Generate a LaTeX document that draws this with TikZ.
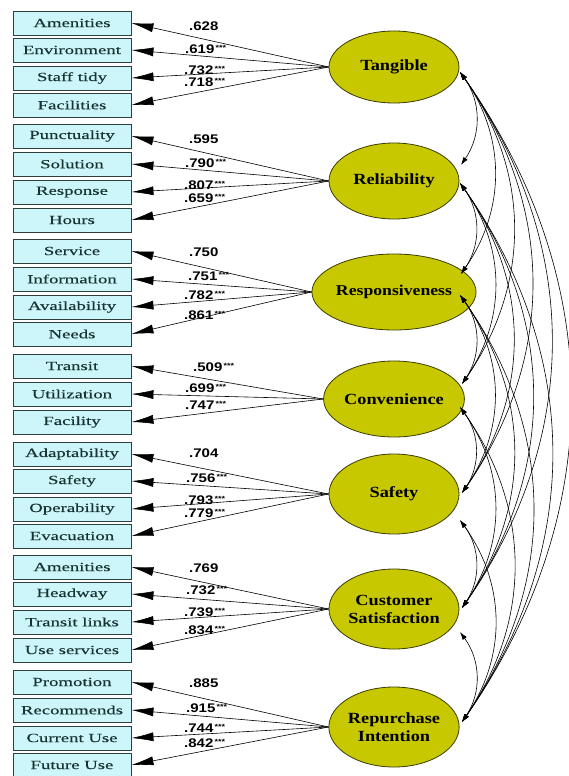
\documentclass[tikz,border=0pt]{standalone}
\usepackage{fontspec}
\setmainfont{Liberation Serif}
\newfontfamily\boxfont[FakeStretch=1.5,FakeBold=0.2]{Liberation Serif}
\newfontfamily\ellfont[FakeStretch=1.18]{Liberation Serif}
\newfontfamily\numfont[FakeStretch=1.2]{Liberation Sans}
\usetikzlibrary{arrows.meta,shapes.geometric}
\definecolor{boxfill}{RGB}{204,246,250}
\definecolor{boxdraw}{RGB}{50,62,62}
\definecolor{boxtext}{RGB}{24,50,50}
\definecolor{ellfill}{RGB}{200,200,0}
\definecolor{elldraw}{RGB}{60,60,0}
\newcommand{\stt}{\raisebox{3pt}{\fontsize{7.5}{7.5}\selectfont\,***}}
\begin{document}
\begin{tikzpicture}[x=1pt,y=-1pt,
 obs/.style={draw=boxdraw, fill=boxfill, line width=0.9pt, minimum width=118pt, minimum height=24pt, inner sep=0pt, font=\boxfont\fontsize{12.5}{13}\selectfont, text=boxtext},
 lat/.style={ellipse, draw=elldraw, fill=ellfill, line width=0.8pt, minimum width=130pt, minimum height=76pt, inner sep=0pt, font=\ellfont\bfseries\fontsize{15.5}{18}\selectfont, align=center, text=black},
 load/.style={-{Latex[length=22pt,width=9pt]}, line width=0.6pt},
 cov/.style={{Latex[length=8pt,width=5pt]}-{Latex[length=8pt,width=5pt]}, line width=0.6pt, bend left=35},
 coef/.style={anchor=west, inner sep=0pt, font=\numfont\bfseries\fontsize{12.5}{13}\selectfont}]
\useasboundingbox (0,0) rectangle (568,776);
% latent variables
\node[lat, minimum height=72pt] (t) at (394,67) {Tangible};
\node[lat] (r) at (394,181) {Reliability};
\node[lat, font=\ellfont\bfseries\fontsize{15}{18}\selectfont] (p) at (394,292) {Responsiveness};
\node[lat] (c) at (394,399) {Convenience};
\node[lat, minimum height=80pt] (s) at (394,494) {Safety};
\node[lat, minimum height=80pt] (cs) at (394,609) {Customer\\Satisfaction};
\node[lat, minimum height=80pt] (ri) at (394,727) {Repurchase\\Intention};
% observed
\node[obs] (a1) at (72,23) {Amenities};
\node[obs] (a2) at (72,50) {Environment};
\node[obs] (a3) at (72,78) {Staff tidy};
\node[obs] (a4) at (72,105) {Facilities};
\node[obs] (b1) at (72,136) {Punctuality};
\node[obs] (b2) at (72,164) {Solution};
\node[obs] (b3) at (72,192) {Response};
\node[obs] (b4) at (72,220) {Hours};
\node[obs] (d1) at (72,251) {Service};
\node[obs] (d2) at (72,279) {Information};
\node[obs] (d3) at (72,307) {Availability};
\node[obs] (d4) at (72,334) {Needs};
\node[obs] (e1) at (72,366) {Transit};
\node[obs] (e2) at (72,394) {Utilization};
\node[obs] (e3) at (72,422) {Facility};
\node[obs] (f1) at (72,454) {Adaptability};
\node[obs] (f2) at (72,481) {Safety};
\node[obs] (f3) at (72,509) {Operability};
\node[obs] (f4) at (72,536) {Evacuation};
\node[obs] (g1) at (72,567) {Amenities};
\node[obs] (g2) at (72,594) {Headway};
\node[obs] (g3) at (72,622) {Transit links};
\node[obs] (g4) at (72,650) {Use services};
\node[obs] (h1) at (72,682) {Promotion};
\node[obs] (h2) at (72,710) {Recommends};
\node[obs] (h3) at (72,738) {Current Use};
\node[obs] (h4) at (72,765) {Future Use};
% loadings
\foreach \k in {1,...,4} \draw[load] (t.west) -- (a\k.east);
\foreach \k in {1,...,4} \draw[load] (r.west) -- (b\k.east);
\foreach \k in {1,...,4} \draw[load] (p.west) -- (d\k.east);
\foreach \k in {1,...,3} \draw[load] (c.west) -- (e\k.east);
\foreach \k in {1,...,4} \draw[load] (s.west) -- (f\k.east);
\foreach \k in {1,...,4} \draw[load] (cs.west) -- (g\k.east);
\foreach \k in {1,...,4} \draw[load] (ri.west) -- (h\k.east);
% coefficients
\node[coef] (ka1) at (189,26) {.628};
\node[coef] (ka2) at (185,49) {.619\stt};
\node[coef] (ka3) at (184,70) {.732\stt};
\node[coef] (ka4) at (184,82) {.718\stt};
\node[coef] (kb1) at (189,139) {.595};
\node[coef] (kb2) at (185,163) {.790\stt};
\node[coef] (kb3) at (184,185) {.807\stt};
\node[coef] (kb4) at (184,198) {.659\stt};
\node[coef] (kd1) at (189,252) {.750};
\node[coef] (kd2) at (188,276) {.751\stt};
\node[coef] (kd3) at (184,295) {.782\stt};
\node[coef] (kd4) at (184,315) {.861\stt};
\node[coef] (ke1) at (193,367) {.509\stt};
\node[coef] (ke2) at (185,388) {.699\stt};
\node[coef] (ke3) at (185,405) {.747\stt};
\node[coef] (kf1) at (189,453) {.704};
\node[coef] (kf2) at (186,478) {.756\stt};
\node[coef] (kf3) at (184,500) {.793\stt};
\node[coef] (kf4) at (184,513) {.779\stt};
\node[coef] (kg1) at (189,568) {.769};
\node[coef] (kg2) at (186,590) {.732\stt};
\node[coef] (kg3) at (184,612) {.739\stt};
\node[coef] (kg4) at (184,630) {.834\stt};
\node[coef] (kh1) at (189,683) {.885};
\node[coef] (kh2) at (186,708) {.915\stt};
\node[coef] (kh3) at (184,728) {.744\stt};
\node[coef] (kh4) at (184,743) {.842\stt};
% covariance attachment points
\coordinate (L1) at (460,72);
\coordinate (U2) at (461,165);
\coordinate (L2) at (460,183);
\coordinate (U3) at (461,274);
\coordinate (L3) at (460,295);
\coordinate (U4) at (462,384);
\coordinate (L4) at (460,407);
\coordinate (U5) at (462,493);
\coordinate (L5) at (460,520);
\coordinate (U6) at (462,608);
\coordinate (L6) at (460,632);
\coordinate (U7) at (462,722);
\foreach \i/\j in {1/2,1/3,1/4,1/5,1/6,1/7,2/3,2/4,2/5,2/6,2/7,3/4,3/5,3/6,3/7,4/5,4/6,4/7,5/6,5/7,6/7}
  \draw[cov] (L\i) to (U\j);
\end{tikzpicture}
\end{document}
